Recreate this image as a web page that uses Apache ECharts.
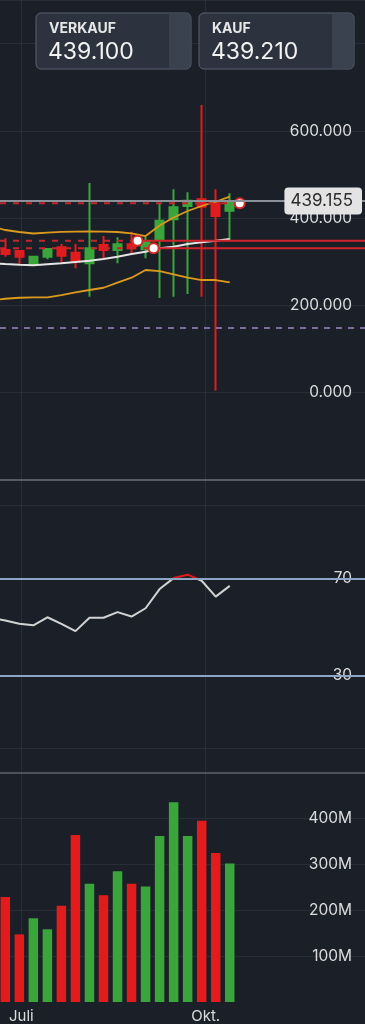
<!DOCTYPE html>
<html><head><meta charset="utf-8">
<script src="https://cdn.jsdelivr.net/npm/echarts@6/dist/echarts.min.js"></script>
<style>html,body{margin:0;padding:0;background:#1b2028;} #c{width:365px;height:1024px;}</style>
</head><body><div id="c"></div>
<script>
// ---- data ----
const dates = ['2025-06-16','2025-06-23','2025-06-30','2025-07-07','2025-07-14','2025-07-21','2025-07-28','2025-08-04','2025-08-11','2025-08-18','2025-08-25','2025-09-01','2025-09-08','2025-09-15','2025-09-22','2025-09-29','2025-10-06','2025-10-13'];
// candles exist from the 2nd date on
const candleDates = dates.slice(1);
const opens  = [327.0,324.7,294.3,311.7,333.2,320.8,296.5,338.5,327.0,340.1,328.6,351.5,397.4,427.9,443.2,435.4,417.1];
const closes = [317.9,311.7,311.7,329.3,314.0,300.2,330.9,327.0,340.1,330.9,346.0,394.2,424.9,440.0,426.3,405.0,438.0];
const lows   = [311.7,294.3,292.6,305.7,294.9,285.1,220.0,308.0,296.5,315.6,308.0,217.0,220.0,226.2,220.0,4.6,350.0];
const highs  = [353.8,326.0,311.7,329.3,340.8,340.8,480.6,359.1,356.1,369.0,357.5,435.4,466.1,459.3,659.3,466.1,457.0];
const volumesM = [228,147,182,158,209,363,257,232,284,257,251,361,434,361,394,324,301];
const bbUpper  = [380.9,372.9,368.3,364.9,367.1,368.7,369.4,369.9,369.4,368.3,365.3,359.1,383.2,401.5,416.4,427.9,437.7,449.6];
const bbMiddle = [297.2,295.0,293.3,292.0,294.3,296.5,299.5,302.5,306.4,311.7,317.9,323.1,330.9,334.6,340.8,344.7,348.4,352.2];
const bbLower  = [211.8,215.4,217.7,218.6,218.6,223.9,230.1,235.4,240.6,252.1,263.6,281.2,278.9,271.3,263.6,258.3,258.3,253.0];
const rsi = [53.8,52.7,51.3,50.7,54.0,51.3,48.3,53.8,53.8,56.1,54.3,57.7,65.6,70.1,71.5,69.0,62.5,66.9];
const lastPrice = 439.155;
const markerDates  = ['2025-08-28','2025-09-05','2025-10-18'];
const markerValues = [348, 331, 434];
const markerSolidAfter = [true, true, false];
const supportLevel = 148;
const rsiLevels = [30, 70];
const rsiGrid = [0, 100];
const monthLines = ['2025-07-01','2025-10-01'];
const monthNames = ['Jan.','Feb.','März','Apr.','Mai','Juni','Juli','Aug.','Sep.','Okt.','Nov.','Dez.'];
const quoteTitles = ['VERKAUF','KAUF'];
const quoteValues = ['439.100','439.210'];

// ---- helpers ----
const DAY = 864e5;
const t = s => Date.parse(s + 'T00:00:00Z');
const FONT = 'Inter, sans-serif';
const TXT = '#dcdcdc';
const GRIDC = '#282e37';
const SEP = '#565b64';
const UP = '#3aa53b', DOWN = '#e21c1c';
const RSI_RED = '#e0191c', RSI_GRAY = '#d2d2d2';
const jul1 = t(monthLines[0]);
const xMin = jul1 - 10.65 * DAY, xMax = jul1 + 171.5 * DAY;
const monthTicks = monthLines.map(t);

function xAx(i, extra) {
  return Object.assign({
    type: 'value', gridIndex: i, min: xMin, max: xMax, scale: true,
    axisTick: { show: false, customValues: monthTicks },
    splitLine: { show: true, lineStyle: { color: GRIDC, width: 1 } },
    axisLabel: { show: false },
    axisLine: { show: false, onZero: false }
  }, extra);
}

const candleData = candleDates.map((d, i) => [t(d), opens[i], closes[i], lows[i], highs[i]]);
const volData = candleDates.map((d, i) => ({ value: [t(d), volumesM[i]], itemStyle: { color: closes[i] >= opens[i] ? UP : DOWN } }));

const series = [];
series.push({ name: 'bbBase', type: 'line', xAxisIndex: 0, yAxisIndex: 0, stack: 'bb', symbol: 'none', silent: true,
  lineStyle: { opacity: 0 }, data: dates.map((d, i) => [t(d), bbLower[i]]) });
series.push({ name: 'bbFill', type: 'line', xAxisIndex: 0, yAxisIndex: 0, stack: 'bb', symbol: 'none', silent: true,
  lineStyle: { opacity: 0 }, areaStyle: { color: 'rgba(125,105,70,0.18)' },
  data: dates.map((d, i) => [t(d), bbUpper[i] - bbLower[i]]) });
series.push({ type: 'line', xAxisIndex: 0, yAxisIndex: 0, symbol: 'none', lineStyle: { color: '#dc9a1c', width: 1.8 },
  data: dates.map((d, i) => [t(d), bbUpper[i]]) });
series.push({ type: 'line', xAxisIndex: 0, yAxisIndex: 0, symbol: 'none', lineStyle: { color: '#dc9a1c', width: 1.8 },
  data: dates.map((d, i) => [t(d), bbLower[i]]) });
series.push({ type: 'line', xAxisIndex: 0, yAxisIndex: 0, symbol: 'none', lineStyle: { color: '#e4e4e4', width: 2 },
  data: dates.map((d, i) => [t(d), bbMiddle[i]]),
  markLine: { silent: true, symbol: 'none', label: { show: false },
    lineStyle: { color: '#7e6ba0', width: 2, type: [6, 6] }, data: [{ yAxis: supportLevel }] } });
series.push({ type: 'candlestick', xAxisIndex: 0, yAxisIndex: 0, barWidth: 9, data: candleData,
  itemStyle: { color: UP, color0: DOWN, borderColor: UP, borderColor0: DOWN, borderWidth: 2 } });
markerDates.forEach((d, i) => {
  series.push({ type: 'line', xAxisIndex: 0, yAxisIndex: 0, symbol: 'none', z: 4,
    lineStyle: { color: '#c3262b', width: 2, type: [6, 7] },
    data: [[xMin, markerValues[i]], [t(d), markerValues[i]]] });
  if (markerSolidAfter[i]) {
    series.push({ type: 'line', xAxisIndex: 0, yAxisIndex: 0, symbol: 'none', z: 4,
      lineStyle: { color: '#d0242a', width: 2 },
      data: [[t(d), markerValues[i]], [xMax, markerValues[i]]] });
  }
});
series.push({ type: 'scatter', xAxisIndex: 0, yAxisIndex: 0, symbol: 'circle', symbolSize: 10, z: 6,
  itemStyle: { color: '#ffffff', borderColor: '#d42a2a', borderWidth: 2, opacity: 1 },
  data: markerDates.map((d, i) => [t(d), markerValues[i]]) });
series.push({ id: 'rsi', type: 'line', xAxisIndex: 1, yAxisIndex: 1, symbol: 'none', lineStyle: { width: 2, color: RSI_GRAY },
  data: dates.map((d, i) => [t(d), rsi[i]]),
  markLine: { silent: true, symbol: 'none', label: { show: false },
    lineStyle: { color: '#8ea6c6', width: 2, type: 'solid' },
    data: rsiLevels.map(v => ({ yAxis: v })) } });
series.push({ type: 'bar', xAxisIndex: 2, yAxisIndex: 2, barWidth: 9.5, data: volData });

const graphic = [];
quoteTitles.forEach((q, i) => {
  const x0 = 36 + i * 163;
  graphic.push({ type: 'rect', z: 100, shape: { x: x0, y: 13, width: 155, height: 56, r: 5 },
    style: { fill: '#2c333e', stroke: '#5b6371', lineWidth: 1 } });
  graphic.push({ type: 'rect', z: 101, shape: { x: x0 + 133, y: 13.5, width: 21.5, height: 55, r: [0, 4.5, 4.5, 0] },
    style: { fill: '#3a4250' } });
  graphic.push({ type: 'text', z: 102, x: x0 + 13, y: 22,
    style: { text: q, fill: '#e6e6e6', font: 'bold 14px ' + FONT } });
  graphic.push({ type: 'text', z: 102, x: x0 + 12, y: 41,
    style: { text: quoteValues[i], fill: '#f2f2f2', font: '23px ' + FONT } });
});

const option = {
  backgroundColor: '#1b2028',
  animation: false,
  textStyle: { fontFamily: FONT },
  grid: [
    { left: 0, right: 0, top: 0, height: 480 },
    { left: 0, right: 0, top: 481, height: 292 },
    { left: 0, right: 0, top: 772, height: 231 }
  ],
  xAxis: [
    xAx(0, { axisLine: { show: true, onZero: false, lineStyle: { color: SEP, width: 2 } } }),
    xAx(1, { axisLine: { show: true, onZero: false, lineStyle: { color: '#4d525b', width: 2 } } }),
    xAx(2, { axisLabel: { show: true, customValues: monthTicks, color: TXT, fontSize: 15, fontFamily: FONT, margin: 7,
      formatter: v => monthNames[new Date(v).getUTCMonth()] } })
  ],
  yAxis: [
    { type: 'value', gridIndex: 0, position: 'right', min: -200, max: 900, interval: 200,
      axisLine: { show: false }, axisTick: { show: false },
      splitLine: { lineStyle: { color: GRIDC } },
      axisLabel: { inside: true, margin: 13, color: TXT, fontSize: 15.5, fontFamily: FONT, showMinLabel: false, showMaxLabel: false,
        formatter: v => v.toFixed(3) },
      axisPointer: { show: true, type: 'line', status: 'show', value: lastPrice, snap: false, triggerTooltip: false,
        lineStyle: { color: '#8c9098', width: 2, type: 'solid' },
        label: { show: true, formatter: p => Number(p.value).toFixed(3), backgroundColor: '#e3e3e3', color: '#2b2b2b',
          fontSize: 17, fontFamily: FONT, padding: [5, 9, 5, 6], borderRadius: 4, margin: 3 },
        handle: { show: false } } },
    { type: 'value', gridIndex: 1, position: 'right', min: -10, max: 110,
      axisLine: { show: false }, axisTick: { show: false, customValues: rsiGrid },
      splitLine: { lineStyle: { color: GRIDC } },
      axisLabel: { inside: true, margin: 13, color: TXT, fontSize: 15.5, fontFamily: FONT, customValues: rsiLevels } },
    { type: 'value', gridIndex: 2, position: 'right', min: 0, max: 500, interval: 100,
      axisLine: { show: false }, axisTick: { show: false },
      splitLine: { lineStyle: { color: GRIDC }, showMinLine: false },
      axisLabel: { inside: true, margin: 13, color: TXT, fontSize: 15.5, fontFamily: FONT, showMinLabel: false, showMaxLabel: false,
        formatter: v => v + 'M' } }
  ],
  graphic: graphic,
  series: series
};
const chart = echarts.init(document.getElementById('c'), null, { renderer: 'canvas' });
chart.setOption(option);
// colour the RSI line red above its 70 level, using the axis scale to find that level
const y70 = chart.convertToPixel({ xAxisIndex: 1, yAxisIndex: 1 }, [xMin, rsiLevels[1]])[1];
chart.setOption({ series: [{ id: 'rsi', lineStyle: { color: new echarts.graphic.LinearGradient(0, y70 - 0.5, 0, y70 + 0.5, [
  { offset: 0, color: RSI_RED }, { offset: 0.5, color: RSI_RED }, { offset: 0.5, color: RSI_GRAY }, { offset: 1, color: RSI_GRAY }
], true) } }] });
</script></body></html>
